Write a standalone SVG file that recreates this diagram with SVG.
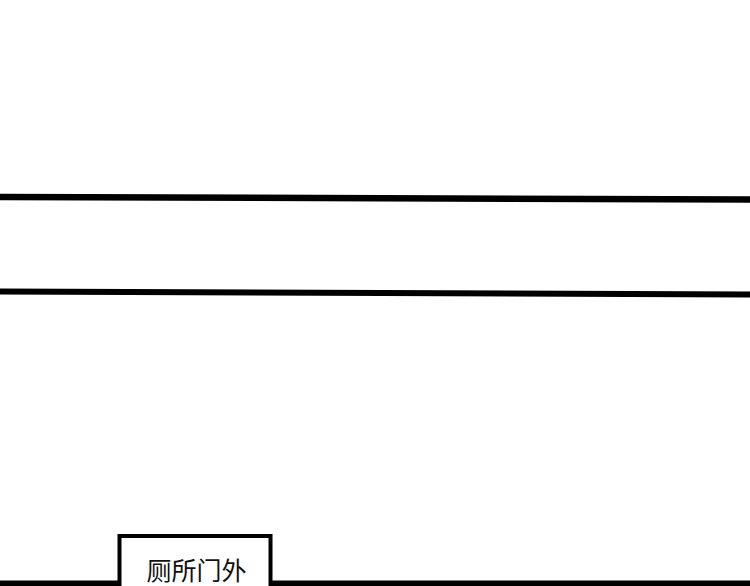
<svg xmlns="http://www.w3.org/2000/svg" width="750" height="586" viewBox="0 0 750 586">
<style>
.border{stroke:#000;fill:none;stroke-linecap:butt}
.cap{font-family:"Noto Sans CJK SC","Noto Sans",sans-serif;font-size:25px;fill:#111}
</style>
<rect width="750" height="586" fill="#fff"/>
<g id="panels">
<line class="border" x1="0" y1="197" x2="750" y2="199.5" stroke-width="6.5"/>
<line class="border" x1="0" y1="291.5" x2="750" y2="294.5" stroke-width="6"/>
<rect x="0" y="580.5" width="750" height="6" fill="#000"/>
</g>
<g id="caption">
<path d="M119.5,590 V536 H270.5 V590" fill="#fff" stroke="#000" stroke-width="4"/>
<text class="cap" x="196.5" y="579.5" text-anchor="middle">厕所门外</text>
</g>
</svg>
